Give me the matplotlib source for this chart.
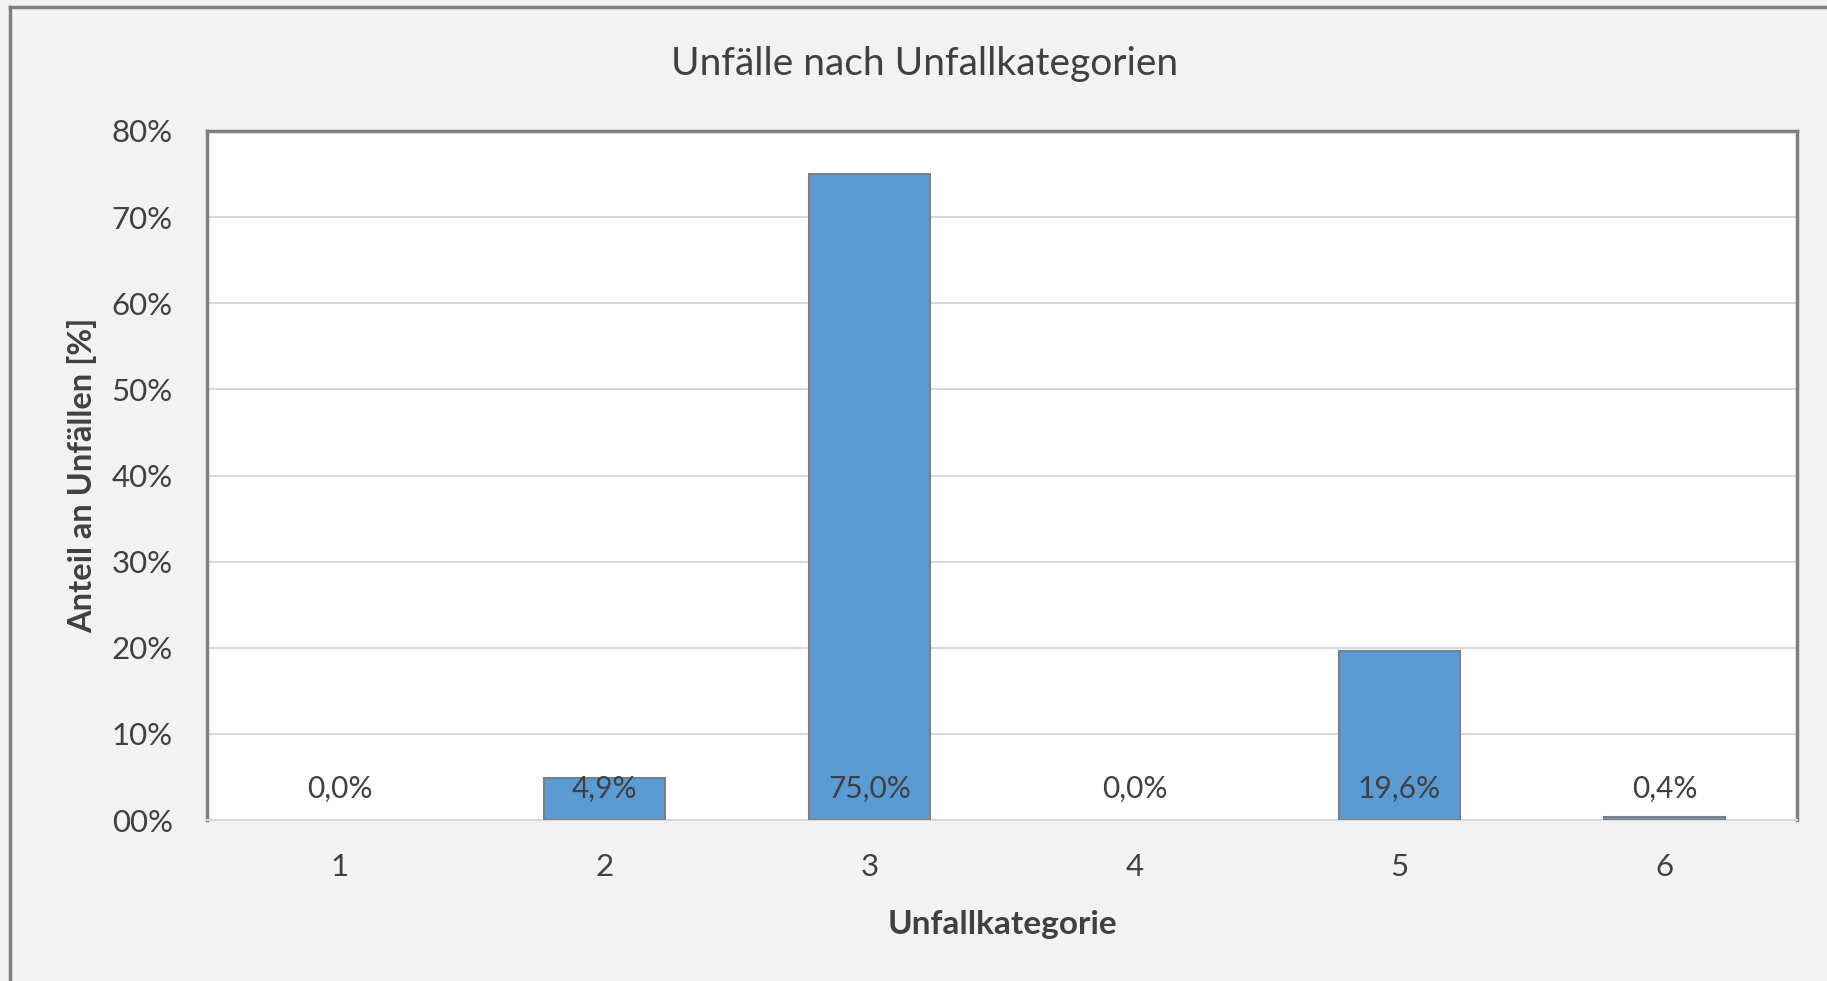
import matplotlib
matplotlib.use("Agg")
from matplotlib import pyplot as plt
from matplotlib.lines import Line2D
from matplotlib.ticker import FuncFormatter

# chart values
categories = [1, 2, 3, 4, 5, 6]
shares = [0.0, 4.9, 75.0, 0.0, 19.6, 0.4]
bar_labels = ["0,0%", "4,9%", "75,0%", "0,0%", "19,6%", "0,4%"]
yticks = [0, 10, 20, 30, 40, 50, 60, 70, 80]

title = "Unfälle nach Unfallkategorien"
xlabel = "Unfallkategorie"
ylabel = "Anteil an Unfällen [%]"

txt = "#404040"
plt.rcParams['font.family'] = ['Lato', 'DejaVu Sans']

fig = plt.figure(figsize=(18.27, 9.81), dpi=100)
fig.patch.set_facecolor("#F2F2F2")
ax = fig.add_axes([207 / 1827, 1 - 820 / 981, 1590 / 1827, 689 / 981])
ax.set_facecolor("white")

# zero bars get no outline, like in the original
edge_w = [1.5 if v > 0 else 0 for v in shares]
ax.bar(categories, shares, width=0.457, color="#5B9BD5",
       edgecolor="#7F7F7F", linewidth=edge_w, zorder=3)

# data labels sit near the base of every bar
for c, lab in zip(categories, bar_labels):
    ax.text(c, 3.6, lab, ha="center", va="center", fontsize=21.5,
            color=txt, zorder=4)

ax.set_xlim(0.5, 6.5)
ax.set_ylim(0, 80)
ax.set_xticks(categories)
ax.set_yticks(yticks)
ax.yaxis.set_major_formatter(FuncFormatter(lambda v, p: "%02d%%" % v))
ax.tick_params(axis="both", length=0, labelsize=22.5, colors=txt)
ax.tick_params(axis="y", pad=24.5)
ax.tick_params(axis="x", pad=24)
ax.grid(axis="y", color="#D9D9D9", linewidth=1.5, zorder=0)

for side in ["left", "top", "right"]:
    ax.spines[side].set_color("#808080")
    ax.spines[side].set_linewidth(2.5)
ax.spines["bottom"].set_color("#D9D9D9")
ax.spines["bottom"].set_linewidth(1.5)

ax.set_ylabel(ylabel, fontsize=23.5, fontweight="bold", color=txt)
ax.yaxis.set_label_coords(-0.069, 0.5)
ax.set_xlabel(xlabel, fontsize=24, fontweight="bold", color=txt)
ax.xaxis.set_label_coords(0.5, -0.130)

fig.text(925 / 1827, 1 - 75 / 981, title, ha="center", va="baseline",
         fontsize=28, color=txt)

# outer frame, only left and top edges visible
fig.add_artist(Line2D([10 / 1827, 10 / 1827], [0, 1 - 7 / 981],
                      transform=fig.transFigure, color="#7F7F7F", linewidth=2.5))
fig.add_artist(Line2D([10 / 1827, 1], [1 - 7 / 981, 1 - 7 / 981],
                      transform=fig.transFigure, color="#7F7F7F", linewidth=2.5))

fig.savefig("out.png", dpi=100, facecolor=fig.get_facecolor())
